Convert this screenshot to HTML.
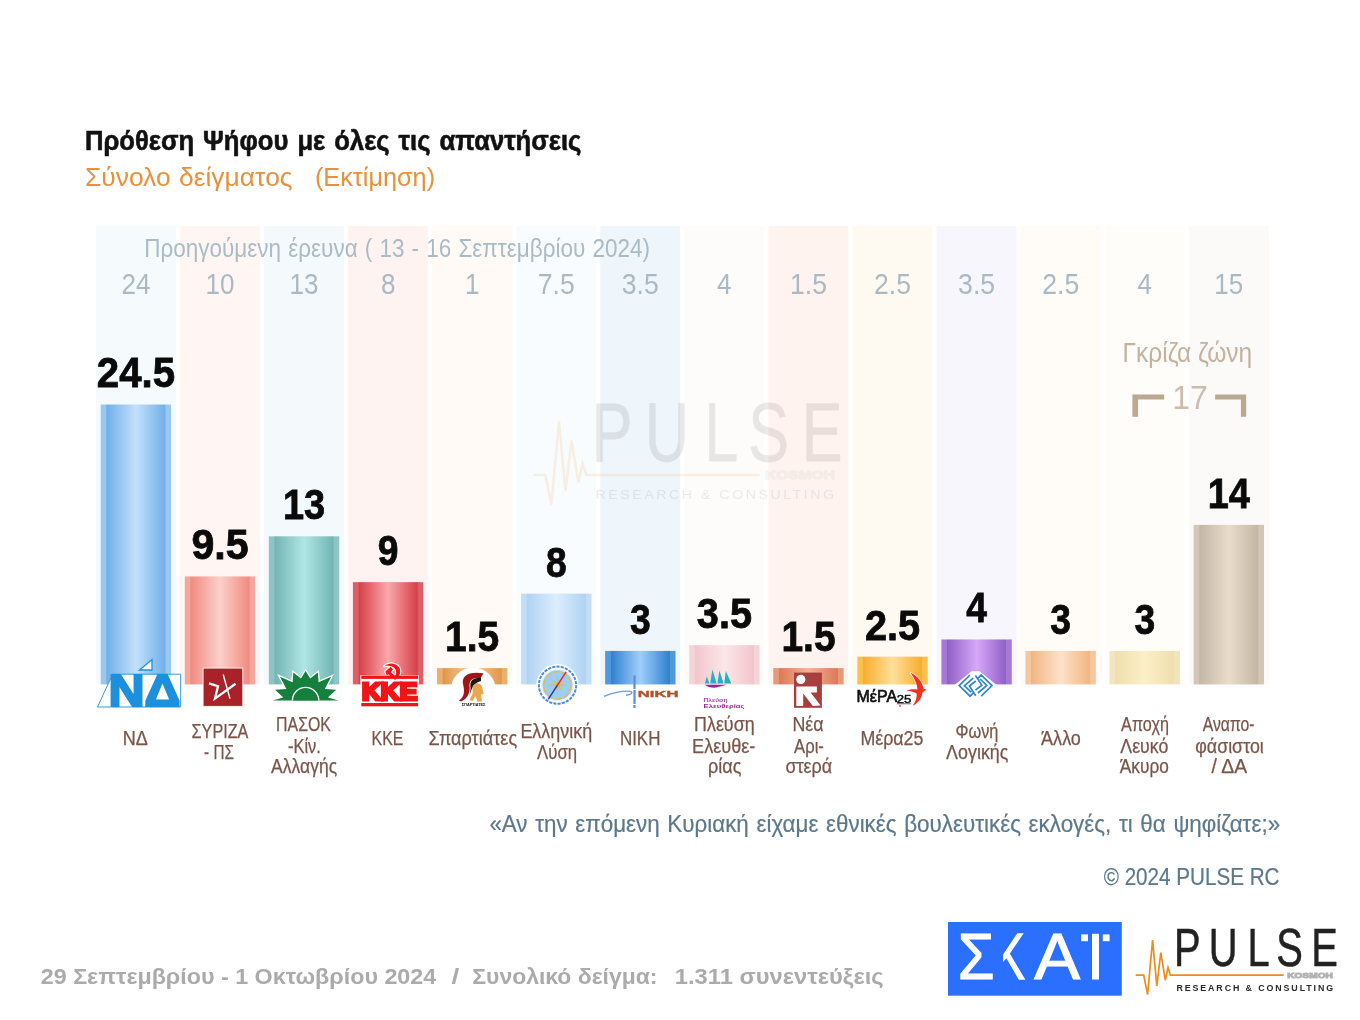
<!DOCTYPE html>
<html lang="el"><head><meta charset="utf-8"><title>Πρόθεση Ψήφου</title>
<style>
html,body{margin:0;padding:0;background:#fff;}
body{width:1360px;height:1020px;overflow:hidden;font-family:"Liberation Sans",sans-serif;}
svg{display:block}
text{font-family:"Liberation Sans",sans-serif;white-space:pre;}
.b{font-weight:bold}
</style></head><body>
<svg width="1360" height="1020" viewBox="0 0 1360 1020">
<defs>
<linearGradient id="gnd" x1="0" x2="1" y1="0" y2="0"><stop offset="0" stop-color="#9CC8F0"/><stop offset="0.075" stop-color="#9CC8F0"/><stop offset="0.085" stop-color="#6FB1E8"/><stop offset="0.5" stop-color="#C4E0FB"/><stop offset="0.915" stop-color="#6FB1E8"/><stop offset="0.925" stop-color="#9CC8F0"/><stop offset="1" stop-color="#9CC8F0"/></linearGradient>
<linearGradient id="gsyr" x1="0" x2="1" y1="0" y2="0"><stop offset="0" stop-color="#F4A79C"/><stop offset="0.075" stop-color="#F4A79C"/><stop offset="0.085" stop-color="#F08B80"/><stop offset="0.5" stop-color="#FDD0CB"/><stop offset="0.915" stop-color="#F08B80"/><stop offset="0.925" stop-color="#F4A79C"/><stop offset="1" stop-color="#F4A79C"/></linearGradient>
<linearGradient id="gpas" x1="0" x2="1" y1="0" y2="0"><stop offset="0" stop-color="#8EC4C4"/><stop offset="0.075" stop-color="#8EC4C4"/><stop offset="0.085" stop-color="#72B5B3"/><stop offset="0.5" stop-color="#B0E6E6"/><stop offset="0.915" stop-color="#72B5B3"/><stop offset="0.925" stop-color="#8EC4C4"/><stop offset="1" stop-color="#8EC4C4"/></linearGradient>
<linearGradient id="gkke" x1="0" x2="1" y1="0" y2="0"><stop offset="0" stop-color="#DC6068"/><stop offset="0.075" stop-color="#DC6068"/><stop offset="0.085" stop-color="#D64048"/><stop offset="0.5" stop-color="#FAA8AC"/><stop offset="0.915" stop-color="#D64048"/><stop offset="0.925" stop-color="#DC6068"/><stop offset="1" stop-color="#DC6068"/></linearGradient>
<linearGradient id="gspa" x1="0" x2="1" y1="0" y2="0"><stop offset="0" stop-color="#EBB070"/><stop offset="0.075" stop-color="#EBB070"/><stop offset="0.085" stop-color="#E0964A"/><stop offset="0.5" stop-color="#F8D0A0"/><stop offset="0.915" stop-color="#E0964A"/><stop offset="0.925" stop-color="#EBB070"/><stop offset="1" stop-color="#EBB070"/></linearGradient>
<linearGradient id="gell" x1="0" x2="1" y1="0" y2="0"><stop offset="0" stop-color="#C2DDF6"/><stop offset="0.075" stop-color="#C2DDF6"/><stop offset="0.085" stop-color="#B0D3F3"/><stop offset="0.5" stop-color="#DCEDFC"/><stop offset="0.915" stop-color="#B0D3F3"/><stop offset="0.925" stop-color="#C2DDF6"/><stop offset="1" stop-color="#C2DDF6"/></linearGradient>
<linearGradient id="gnik" x1="0" x2="1" y1="0" y2="0"><stop offset="0" stop-color="#5299DA"/><stop offset="0.075" stop-color="#5299DA"/><stop offset="0.085" stop-color="#2E82CF"/><stop offset="0.5" stop-color="#A0CEFC"/><stop offset="0.915" stop-color="#2E82CF"/><stop offset="0.925" stop-color="#5299DA"/><stop offset="1" stop-color="#5299DA"/></linearGradient>
<linearGradient id="gple" x1="0" x2="1" y1="0" y2="0"><stop offset="0" stop-color="#F6D3D6"/><stop offset="0.075" stop-color="#F6D3D6"/><stop offset="0.085" stop-color="#F2C5CB"/><stop offset="0.5" stop-color="#FCE7E8"/><stop offset="0.915" stop-color="#F2C5CB"/><stop offset="0.925" stop-color="#F6D3D6"/><stop offset="1" stop-color="#F6D3D6"/></linearGradient>
<linearGradient id="gnea" x1="0" x2="1" y1="0" y2="0"><stop offset="0" stop-color="#E69A7A"/><stop offset="0.075" stop-color="#E69A7A"/><stop offset="0.085" stop-color="#DD7A55"/><stop offset="0.5" stop-color="#F4B196"/><stop offset="0.915" stop-color="#DD7A55"/><stop offset="0.925" stop-color="#E69A7A"/><stop offset="1" stop-color="#E69A7A"/></linearGradient>
<linearGradient id="gmer" x1="0" x2="1" y1="0" y2="0"><stop offset="0" stop-color="#FBC050"/><stop offset="0.075" stop-color="#FBC050"/><stop offset="0.085" stop-color="#F8AE2C"/><stop offset="0.5" stop-color="#FFDF9C"/><stop offset="0.915" stop-color="#F8AE2C"/><stop offset="0.925" stop-color="#FBC050"/><stop offset="1" stop-color="#FBC050"/></linearGradient>
<linearGradient id="gfon" x1="0" x2="1" y1="0" y2="0"><stop offset="0" stop-color="#A57AD6"/><stop offset="0.075" stop-color="#A57AD6"/><stop offset="0.085" stop-color="#9060C8"/><stop offset="0.5" stop-color="#D6A8F8"/><stop offset="0.915" stop-color="#9060C8"/><stop offset="0.925" stop-color="#A57AD6"/><stop offset="1" stop-color="#A57AD6"/></linearGradient>
<linearGradient id="gall" x1="0" x2="1" y1="0" y2="0"><stop offset="0" stop-color="#F5C79F"/><stop offset="0.075" stop-color="#F5C79F"/><stop offset="0.085" stop-color="#F1B682"/><stop offset="0.5" stop-color="#FDE2C9"/><stop offset="0.915" stop-color="#F1B682"/><stop offset="0.925" stop-color="#F5C79F"/><stop offset="1" stop-color="#F5C79F"/></linearGradient>
<linearGradient id="gapo" x1="0" x2="1" y1="0" y2="0"><stop offset="0" stop-color="#F1E4BE"/><stop offset="0.075" stop-color="#F1E4BE"/><stop offset="0.085" stop-color="#EFDFAF"/><stop offset="0.5" stop-color="#FCEFC6"/><stop offset="0.915" stop-color="#EFDFAF"/><stop offset="0.925" stop-color="#F1E4BE"/><stop offset="1" stop-color="#F1E4BE"/></linearGradient>
<linearGradient id="gana" x1="0" x2="1" y1="0" y2="0"><stop offset="0" stop-color="#D3C6B6"/><stop offset="0.075" stop-color="#D3C6B6"/><stop offset="0.085" stop-color="#C5B6A4"/><stop offset="0.5" stop-color="#E9DCCB"/><stop offset="0.915" stop-color="#C5B6A4"/><stop offset="0.925" stop-color="#D3C6B6"/><stop offset="1" stop-color="#D3C6B6"/></linearGradient>
</defs>
<rect width="1360" height="1020" fill="#fff"/>
<rect x="95.90" y="226" width="80.0" height="458.4" fill="#F5FAFD"/>
<rect x="179.97" y="226" width="80.0" height="458.4" fill="#FFF6F4"/>
<rect x="264.04" y="226" width="80.0" height="458.4" fill="#F4F9FB"/>
<rect x="348.11" y="226" width="80.0" height="458.4" fill="#FFF3F1"/>
<rect x="432.18" y="226" width="80.0" height="458.4" fill="#FFFAF5"/>
<rect x="516.25" y="226" width="80.0" height="458.4" fill="#F9FCFE"/>
<rect x="600.32" y="226" width="80.0" height="458.4" fill="#EEF5FB"/>
<rect x="684.39" y="226" width="80.0" height="458.4" fill="#FEFBFB"/>
<rect x="768.46" y="226" width="80.0" height="458.4" fill="#FFF3EF"/>
<rect x="852.53" y="226" width="80.0" height="458.4" fill="#FFFAF1"/>
<rect x="936.60" y="226" width="80.0" height="458.4" fill="#F7F6FD"/>
<rect x="1020.67" y="226" width="80.0" height="458.4" fill="#FFFBF6"/>
<rect x="1104.74" y="226" width="80.0" height="458.4" fill="#FFFDF9"/>
<rect x="1188.81" y="226" width="80.0" height="458.4" fill="#FCFAF8"/>
<g id="wm" transform="translate(-1204.46 -1017.06) scale(1.53)" opacity="0.115">
<path d="M1135.7 975.2 L1143.7 975.2 L1147.6 994.6 L1152.6 940.2 L1156.8 985.8 L1160.8 952.6 L1165.3 980.2 L1168 967.6 L1170.4 975.2 L1283.7 975.2" fill="none" stroke="#F08A1C" stroke-width="1.7" stroke-linejoin="miter"/>
<text transform="scale(0.74 1)" x="1586.4 1633.4 1685.9 1724.6 1771.9" y="965.8" font-size="54" fill="#444" stroke="#444" stroke-width="0.5">PULSE</text>
<text x="1287.3" y="978" font-size="7.4" font-weight="bold" fill="#B2B2B2" stroke="#B2B2B2" stroke-width="0.9" textLength="45.6" lengthAdjust="spacingAndGlyphs">KOSMOH</text>
<text x="1176.4" y="990.9" font-size="8.9" fill="#555" letter-spacing="1.6" textLength="157.6" lengthAdjust="spacingAndGlyphs">RESEARCH &amp; CONSULTING</text>
</g>
<rect x="100.70" y="404.53" width="70.4" height="279.87" fill="url(#gnd)"/>
<rect x="184.77" y="576.43" width="70.4" height="107.97" fill="url(#gsyr)"/>
<rect x="268.84" y="536.32" width="70.4" height="148.08" fill="url(#gpas)"/>
<rect x="352.91" y="582.16" width="70.4" height="102.24" fill="url(#gkke)"/>
<rect x="436.98" y="668.11" width="70.4" height="16.29" fill="url(#gspa)"/>
<rect x="521.05" y="593.62" width="70.4" height="90.78" fill="url(#gell)"/>
<rect x="605.12" y="650.92" width="70.4" height="33.48" fill="url(#gnik)"/>
<rect x="689.19" y="645.19" width="70.4" height="39.21" fill="url(#gple)"/>
<rect x="773.26" y="668.11" width="70.4" height="16.29" fill="url(#gnea)"/>
<rect x="857.33" y="656.65" width="70.4" height="27.75" fill="url(#gmer)"/>
<rect x="941.40" y="639.46" width="70.4" height="44.94" fill="url(#gfon)"/>
<rect x="1025.47" y="650.92" width="70.4" height="33.48" fill="url(#gall)"/>
<rect x="1109.54" y="650.92" width="70.4" height="33.48" fill="url(#gapo)"/>
<rect x="1193.61" y="524.86" width="70.4" height="159.54" fill="url(#gana)"/>
<text x="84.9" y="150" font-size="27.3" fill="#111" text-anchor="start" textLength="496.5" lengthAdjust="spacingAndGlyphs" class="b" stroke="#111" stroke-width="0.6" word-spacing="2">Πρόθεση Ψήφου με όλες τις απαντήσεις</text>
<text x="84.9" y="186.3" font-size="26.6" fill="#E8913A" text-anchor="start" textLength="207.7" lengthAdjust="spacingAndGlyphs" word-spacing="1">Σύνολο δείγματος</text>
<text x="314.9" y="186.3" font-size="26.6" fill="#E8913A" text-anchor="start" textLength="120.2" lengthAdjust="spacingAndGlyphs">(Εκτίμηση)</text>
<text x="144.2" y="257" font-size="25.4" fill="#AABBC6" text-anchor="start" textLength="505.8" lengthAdjust="spacingAndGlyphs" word-spacing="1">Προηγούμενη έρευνα ( 13 - 16 Σεπτεμβρίου 2024)</text>
<text x="121.4" y="293.8" font-size="29" fill="#A9BAC5" text-anchor="start" textLength="29" lengthAdjust="spacingAndGlyphs">24</text>
<text x="205.5" y="293.8" font-size="29" fill="#A9BAC5" text-anchor="start" textLength="29" lengthAdjust="spacingAndGlyphs">10</text>
<text x="289.5" y="293.8" font-size="29" fill="#A9BAC5" text-anchor="start" textLength="29" lengthAdjust="spacingAndGlyphs">13</text>
<text x="380.9" y="293.8" font-size="29" fill="#A9BAC5" text-anchor="start" textLength="14.5" lengthAdjust="spacingAndGlyphs">8</text>
<text x="464.9" y="293.8" font-size="29" fill="#A9BAC5" text-anchor="start" textLength="14.5" lengthAdjust="spacingAndGlyphs">1</text>
<text x="537.8" y="293.8" font-size="29" fill="#A9BAC5" text-anchor="start" textLength="37" lengthAdjust="spacingAndGlyphs">7.5</text>
<text x="621.8" y="293.8" font-size="29" fill="#A9BAC5" text-anchor="start" textLength="37" lengthAdjust="spacingAndGlyphs">3.5</text>
<text x="717.1" y="293.8" font-size="29" fill="#A9BAC5" text-anchor="start" textLength="14.5" lengthAdjust="spacingAndGlyphs">4</text>
<text x="790.0" y="293.8" font-size="29" fill="#A9BAC5" text-anchor="start" textLength="37" lengthAdjust="spacingAndGlyphs">1.5</text>
<text x="874.0" y="293.8" font-size="29" fill="#A9BAC5" text-anchor="start" textLength="37" lengthAdjust="spacingAndGlyphs">2.5</text>
<text x="958.1" y="293.8" font-size="29" fill="#A9BAC5" text-anchor="start" textLength="37" lengthAdjust="spacingAndGlyphs">3.5</text>
<text x="1042.2" y="293.8" font-size="29" fill="#A9BAC5" text-anchor="start" textLength="37" lengthAdjust="spacingAndGlyphs">2.5</text>
<text x="1137.5" y="293.8" font-size="29" fill="#A9BAC5" text-anchor="start" textLength="14.5" lengthAdjust="spacingAndGlyphs">4</text>
<text x="1214.3" y="293.8" font-size="29" fill="#A9BAC5" text-anchor="start" textLength="29" lengthAdjust="spacingAndGlyphs">15</text>
<text x="96.8" y="387.4" font-size="42.3" fill="#0a0a0a" text-anchor="start" textLength="78.2" lengthAdjust="spacingAndGlyphs" class="b" stroke="#0a0a0a" stroke-width="0.8">24.5</text>
<text x="191.4" y="559.3" font-size="42.3" fill="#0a0a0a" text-anchor="start" textLength="57.2" lengthAdjust="spacingAndGlyphs" class="b" stroke="#0a0a0a" stroke-width="0.8">9.5</text>
<text x="282.9" y="519.2" font-size="42.3" fill="#0a0a0a" text-anchor="start" textLength="42.2" lengthAdjust="spacingAndGlyphs" class="b" stroke="#0a0a0a" stroke-width="0.8">13</text>
<text x="377.8" y="565.1" font-size="42.3" fill="#0a0a0a" text-anchor="start" textLength="20.7" lengthAdjust="spacingAndGlyphs" class="b" stroke="#0a0a0a" stroke-width="0.8">9</text>
<text x="445.1" y="651.0" font-size="42.3" fill="#0a0a0a" text-anchor="start" textLength="54.2" lengthAdjust="spacingAndGlyphs" class="b" stroke="#0a0a0a" stroke-width="0.8">1.5</text>
<text x="545.9" y="576.5" font-size="42.3" fill="#0a0a0a" text-anchor="start" textLength="20.7" lengthAdjust="spacingAndGlyphs" class="b" stroke="#0a0a0a" stroke-width="0.8">8</text>
<text x="630.0" y="633.8" font-size="42.3" fill="#0a0a0a" text-anchor="start" textLength="20.7" lengthAdjust="spacingAndGlyphs" class="b" stroke="#0a0a0a" stroke-width="0.8">3</text>
<text x="696.8" y="628.1" font-size="42.3" fill="#0a0a0a" text-anchor="start" textLength="55.2" lengthAdjust="spacingAndGlyphs" class="b" stroke="#0a0a0a" stroke-width="0.8">3.5</text>
<text x="781.4" y="651.0" font-size="42.3" fill="#0a0a0a" text-anchor="start" textLength="54.2" lengthAdjust="spacingAndGlyphs" class="b" stroke="#0a0a0a" stroke-width="0.8">1.5</text>
<text x="864.9" y="639.5" font-size="42.3" fill="#0a0a0a" text-anchor="start" textLength="55.2" lengthAdjust="spacingAndGlyphs" class="b" stroke="#0a0a0a" stroke-width="0.8">2.5</text>
<text x="966.2" y="622.4" font-size="42.3" fill="#0a0a0a" text-anchor="start" textLength="20.7" lengthAdjust="spacingAndGlyphs" class="b" stroke="#0a0a0a" stroke-width="0.8">4</text>
<text x="1050.3" y="633.8" font-size="42.3" fill="#0a0a0a" text-anchor="start" textLength="20.7" lengthAdjust="spacingAndGlyphs" class="b" stroke="#0a0a0a" stroke-width="0.8">3</text>
<text x="1134.4" y="633.8" font-size="42.3" fill="#0a0a0a" text-anchor="start" textLength="20.7" lengthAdjust="spacingAndGlyphs" class="b" stroke="#0a0a0a" stroke-width="0.8">3</text>
<text x="1207.7" y="507.8" font-size="42.3" fill="#0a0a0a" text-anchor="start" textLength="42.2" lengthAdjust="spacingAndGlyphs" class="b" stroke="#0a0a0a" stroke-width="0.8">14</text>
<text x="122.8" y="744.5" font-size="19.3" fill="#7A5548" text-anchor="start" textLength="25.1" lengthAdjust="spacingAndGlyphs" stroke="#7A5548" stroke-width="0.25">ΝΔ</text>
<text x="191.6" y="738" font-size="19.3" fill="#7A5548" text-anchor="start" textLength="56.8" lengthAdjust="spacingAndGlyphs" stroke="#7A5548" stroke-width="0.25">ΣΥΡΙΖΑ</text>
<text x="204.1" y="759.25" font-size="19.3" fill="#7A5548" text-anchor="start" textLength="29.8" lengthAdjust="spacingAndGlyphs" stroke="#7A5548" stroke-width="0.25">- ΠΣ</text>
<text x="276.1" y="731.4" font-size="19.3" fill="#7A5548" text-anchor="start" textLength="54.8" lengthAdjust="spacingAndGlyphs" stroke="#7A5548" stroke-width="0.25">ΠΑΣΟΚ</text>
<text x="287.9" y="752.5" font-size="19.3" fill="#7A5548" text-anchor="start" textLength="33.0" lengthAdjust="spacingAndGlyphs" stroke="#7A5548" stroke-width="0.25">-Κίν.</text>
<text x="271.1" y="772.5" font-size="19.3" fill="#7A5548" text-anchor="start" textLength="66.0" lengthAdjust="spacingAndGlyphs" stroke="#7A5548" stroke-width="0.25">Αλλαγής</text>
<text x="371.6" y="744.5" font-size="19.3" fill="#7A5548" text-anchor="start" textLength="31.8" lengthAdjust="spacingAndGlyphs" stroke="#7A5548" stroke-width="0.25">ΚΚΕ</text>
<text x="428.6" y="744.5" font-size="19.3" fill="#7A5548" text-anchor="start" textLength="88.5" lengthAdjust="spacingAndGlyphs" stroke="#7A5548" stroke-width="0.25">Σπαρτιάτες</text>
<text x="520.4" y="738" font-size="19.3" fill="#7A5548" text-anchor="start" textLength="71.8" lengthAdjust="spacingAndGlyphs" stroke="#7A5548" stroke-width="0.25">Ελληνική</text>
<text x="537.1" y="759.25" font-size="19.3" fill="#7A5548" text-anchor="start" textLength="40.0" lengthAdjust="spacingAndGlyphs" stroke="#7A5548" stroke-width="0.25">Λύση</text>
<text x="619.9" y="744.5" font-size="19.3" fill="#7A5548" text-anchor="start" textLength="40.5" lengthAdjust="spacingAndGlyphs" stroke="#7A5548" stroke-width="0.25">ΝΙΚΗ</text>
<text x="694.1" y="731.4" font-size="19.3" fill="#7A5548" text-anchor="start" textLength="60.5" lengthAdjust="spacingAndGlyphs" stroke="#7A5548" stroke-width="0.25">Πλεύση</text>
<text x="692.1" y="752.5" font-size="19.3" fill="#7A5548" text-anchor="start" textLength="63.3" lengthAdjust="spacingAndGlyphs" stroke="#7A5548" stroke-width="0.25">Ελευθε-</text>
<text x="707.9" y="772.5" font-size="19.3" fill="#7A5548" text-anchor="start" textLength="33.5" lengthAdjust="spacingAndGlyphs" stroke="#7A5548" stroke-width="0.25">ρίας</text>
<text x="792.4" y="731.4" font-size="19.3" fill="#7A5548" text-anchor="start" textLength="31.1" lengthAdjust="spacingAndGlyphs" stroke="#7A5548" stroke-width="0.25">Νέα</text>
<text x="794.1" y="752.5" font-size="19.3" fill="#7A5548" text-anchor="start" textLength="29.8" lengthAdjust="spacingAndGlyphs" stroke="#7A5548" stroke-width="0.25">Αρι-</text>
<text x="785.4" y="772.5" font-size="19.3" fill="#7A5548" text-anchor="start" textLength="46.8" lengthAdjust="spacingAndGlyphs" stroke="#7A5548" stroke-width="0.25">στερά</text>
<text x="860.4" y="744.5" font-size="19.3" fill="#7A5548" text-anchor="start" textLength="63.0" lengthAdjust="spacingAndGlyphs" stroke="#7A5548" stroke-width="0.25">Μέρα25</text>
<text x="955.4" y="738" font-size="19.3" fill="#7A5548" text-anchor="start" textLength="43.0" lengthAdjust="spacingAndGlyphs" stroke="#7A5548" stroke-width="0.25">Φωνή</text>
<text x="946.1" y="759.25" font-size="19.3" fill="#7A5548" text-anchor="start" textLength="62.3" lengthAdjust="spacingAndGlyphs" stroke="#7A5548" stroke-width="0.25">Λογικής</text>
<text x="1041.1" y="744.5" font-size="19.3" fill="#7A5548" text-anchor="start" textLength="39.8" lengthAdjust="spacingAndGlyphs" stroke="#7A5548" stroke-width="0.25">Άλλο</text>
<text x="1121.1" y="731.4" font-size="19.3" fill="#7A5548" text-anchor="start" textLength="47.8" lengthAdjust="spacingAndGlyphs" stroke="#7A5548" stroke-width="0.25">Αποχή</text>
<text x="1120.3" y="752.5" font-size="19.3" fill="#7A5548" text-anchor="start" textLength="48.0" lengthAdjust="spacingAndGlyphs" stroke="#7A5548" stroke-width="0.25">Λευκό</text>
<text x="1119.8" y="772.5" font-size="19.3" fill="#7A5548" text-anchor="start" textLength="49.0" lengthAdjust="spacingAndGlyphs" stroke="#7A5548" stroke-width="0.25">Άκυρο</text>
<text x="1202.8" y="731.4" font-size="19.3" fill="#7A5548" text-anchor="start" textLength="51.8" lengthAdjust="spacingAndGlyphs" stroke="#7A5548" stroke-width="0.25">Αναπο-</text>
<text x="1195.3" y="752.5" font-size="19.3" fill="#7A5548" text-anchor="start" textLength="68.5" lengthAdjust="spacingAndGlyphs" stroke="#7A5548" stroke-width="0.25">φάσιστοι</text>
<text x="1211.6" y="772.5" font-size="19.3" fill="#7A5548" text-anchor="start" textLength="35.5" lengthAdjust="spacingAndGlyphs" stroke="#7A5548" stroke-width="0.25">/ ΔΑ</text>
<text x="1122.6" y="361.8" font-size="27" fill="#C4B29F" text-anchor="start" textLength="129.6" lengthAdjust="spacingAndGlyphs">Γκρίζα ζώνη</text>
<text x="1172.2" y="409.4" font-size="32.6" fill="#CBBDAE" text-anchor="start" textLength="35.5" lengthAdjust="spacingAndGlyphs">17</text>
<path d="M1132.4 416.7 V394.6 H1164.2 V399.5 H1138.1 V416.7 Z M1246.2 416.7 V394.6 H1215.1 V399.5 H1240.9 V416.7 Z" fill="#BBA893"/>
<text x="489.4" y="831.8" font-size="23.6" fill="#5B788C" text-anchor="start" textLength="790.7" lengthAdjust="spacingAndGlyphs" word-spacing="1.5" stroke="#5B788C" stroke-width="0.2">«Αν την επόμενη Κυριακή είχαμε εθνικές βουλευτικές εκλογές, τι θα ψηφίζατε;»</text>
<text x="1103.7" y="885" font-size="23.6" fill="#5B788C" text-anchor="start" textLength="175.8" lengthAdjust="spacingAndGlyphs" stroke="#5B788C" stroke-width="0.2">© 2024 PULSE RC</text>
<text x="40.8" y="983.8" font-size="21.6" fill="#ABABAB" text-anchor="start" textLength="395.4" lengthAdjust="spacingAndGlyphs" class="b">29 Σεπτεμβρίου - 1 Οκτωβρίου 2024</text>
<text x="451.5" y="983.8" font-size="21.6" fill="#ABABAB" text-anchor="start" textLength="7.8" lengthAdjust="spacingAndGlyphs" class="b">/</text>
<text x="472.3" y="983.8" font-size="21.6" fill="#ABABAB" text-anchor="start" textLength="185.2" lengthAdjust="spacingAndGlyphs" class="b">Συνολικό δείγμα:</text>
<text x="674.8" y="983.8" font-size="21.6" fill="#ABABAB" text-anchor="start" textLength="208.8" lengthAdjust="spacingAndGlyphs" class="b">1.311 συνεντεύξεις</text>
<g id="lg-nd">
<path d="M97.5 707 L112.6 674.2 L180.7 674.2 L180.7 707 Z" fill="#fff" stroke="#1C90DD" stroke-width="0.9"/>
<path d="M139.6 670 L152 659.6 L152 670 Z" fill="#fff" stroke="#1C90DD" stroke-width="1.3"/>
<text x="108.5" y="705.6" font-size="44.5" font-weight="bold" fill="#1C90DD" stroke="#1C90DD" stroke-width="2.2" stroke-linejoin="miter" textLength="72" lengthAdjust="spacingAndGlyphs">ΝΔ</text>
</g>
<g id="lg-syr">
<rect x="203.1" y="668.1" width="39.7" height="38.2" fill="#A82228" stroke="#fff" stroke-width="0.8"/>
<path d="M209 683.4 L218 686.2 L215 698.6 L235.6 683.8" fill="none" stroke="#fff" stroke-width="2.3" stroke-linejoin="miter"/><path d="M223.2 674.5 L230 698.8" fill="none" stroke="#fff" stroke-width="1.4"/>
</g>
<g id="lg-pas">
<path d="M337.6 700.6 L338.5 700.6 L327.9 697.6 L336.2 689.8 L324.8 688.9 L331.2 676.7 L318.6 682.2 L317.8 672.6 L310.2 678.6 L305.6 671.0 L301.0 678.6 L293.4 672.6 L292.6 682.2 L280.0 676.7 L286.4 688.9 L275.0 689.8 L283.3 697.6 L272.7 700.6 L273.6 700.6 Z" fill="#15803C" stroke="#fff" stroke-width="2.6" stroke-linejoin="miter" paint-order="stroke"/>
<path d="M292.4 700.6 A13.2 13.2 0 0 1 318.8 700.6" fill="#15803C" stroke="#fff" stroke-width="1.3"/>
</g>
<g id="lg-kke">
<rect x="360.4" y="675.2" width="58.4" height="31.6" fill="#fff"/>
<g stroke="#fff" stroke-width="2.2" stroke-linejoin="round" fill="#fff">
<path d="M384.2 666.2 C391 660.6 401.2 664.6 400.2 672.6 C399.6 676.6 396.4 678.6 393 678.2 C395.6 676.2 396.8 673.4 395.8 670.2 C394.4 666.4 389 665.2 384.2 666.2 Z"/>
<path d="M385.4 671.4 L390.6 666.8 L393.2 669.6 L390.6 672 L397.4 677.8 L395 680 L388.2 674.2 L386.8 675.4 Z"/>
</g>
<rect x="361.3" y="675.6" width="56.8" height="3.3" fill="#F01418"/>
<rect x="361.3" y="703" width="56.8" height="3.3" fill="#F01418"/>
<text x="361.9" y="700.4" font-size="23.6" font-weight="bold" fill="#F01418" stroke="#F01418" stroke-width="3" stroke-linejoin="miter" textLength="55.4" lengthAdjust="spacingAndGlyphs">ΚΚΕ</text>
<path d="M384.2 666.2 C391 660.6 401.2 664.6 400.2 672.6 C399.6 676.6 396.4 678.6 393 678.2 C395.6 676.2 396.8 673.4 395.8 670.2 C394.4 666.4 389 665.2 384.2 666.2 Z" fill="#F01418"/>
<path d="M385.4 671.4 L390.6 666.8 L393.2 669.6 L390.6 672 L397.4 677.8 L395 680 L388.2 674.2 L386.8 675.4 Z" fill="#F01418"/>
</g>
<g id="lg-spa">
<circle cx="473.2" cy="690.2" r="22.6" fill="#fff"/>
<path d="M459 700.5 C465 697 464.5 690 463 684 C461.5 676 468 671 483.5 673.2 L480.5 678.2 C473 677.4 469 680 469.6 686 C470.2 692 468 699 461 701.4 Z" fill="#A31515"/>
<path d="M481 677.8 C473.5 677.6 469.8 680.5 470.4 686 C470.8 690 470 694 468.6 697 C472 691 471 684 481 681 Z" fill="#1a1a1a"/>
<path d="M472.5 687 C474 682.5 480 682 482 686.5 L483.6 694 L481 694.5 L482 701.6 L477.5 701.8 L475.4 696 L472.8 701 L469.5 700 L472.6 693.6 Z" fill="#E8A84E"/>
<text x="461.8" y="706.2" font-size="3.4" font-weight="bold" fill="#111" textLength="23.6" lengthAdjust="spacingAndGlyphs">ΣΠΑΡΤΙΑΤΕΣ</text>
</g>
<g id="lg-ell">
<circle cx="557.5" cy="685.2" r="21.2" fill="#fff"/>
<circle cx="557.5" cy="685.2" r="18.6" fill="none" stroke="#4C8EDB" stroke-width="2" stroke-dasharray="3.2 1.1"/>
<circle cx="557.5" cy="685.2" r="16.4" fill="#EAF3FC"/>
<circle cx="557.5" cy="685.2" r="15" fill="#9ECDF2"/>
<circle cx="557.5" cy="685.2" r="13.6" fill="none" stroke="#E9B949" stroke-width="1.3" stroke-dasharray="6 2.5"/>
<path d="M568.0 685.2 L559.6 686.1 L563.0 690.7 L558.4 687.3 L557.5 695.7 L556.6 687.3 L552.0 690.7 L555.4 686.1 L547.0 685.2 L555.4 684.3 L552.0 679.7 L556.6 683.1 L557.5 674.7 L558.4 683.1 L563.0 679.7 L559.6 684.3 Z" fill="#EDB83E"/>
<path d="M557.5 685.2 L566.2 671.8" stroke="#E2282E" stroke-width="1.5" fill="none"/>
<path d="M557.5 685.2 L548.2 699.4" stroke="#2B3C9C" stroke-width="1.5" fill="none"/>
</g>
<g id="lg-nik">
<path d="M634.5 675.5 L634.5 708" stroke="#5F8FD8" stroke-width="2.2" fill="none" stroke-dasharray="13.5 1 14 1 10"/>
<path d="M604 696.3 C612 693 624 690.2 630.5 691.4 C633.5 692.2 631.5 695 626 695.2" stroke="#6F9BDD" stroke-width="1.4" fill="none"/>
<text x="637.8" y="696.6" font-size="9.9" font-weight="bold" fill="#B4522A" stroke="#B4522A" stroke-width="0.4" textLength="40.6" lengthAdjust="spacingAndGlyphs">ΝΙΚΗ</text>
</g>
<g id="lg-ple">
<path d="M705 683.6 L706.8 676.5 L709.4 683.6 Z M710.2 683.6 L712.4 669.6 L716.6 683.6 Z M717.4 683.6 L719.4 670.4 L723.6 683.6 Z M724.3 683.6 L725.8 671 L731.4 683.6 Z" fill="#1FB3C2"/>
<path d="M705 684.8 L727 684.8 C723 686.2 719 686.2 716.5 687.6 C712 688 707 687 705 684.8 Z" fill="#A0209C"/>
<text x="703.6" y="702.4" font-size="5.6" font-weight="bold" fill="#B23AB0" textLength="24" lengthAdjust="spacingAndGlyphs">Πλεύση</text>
<text x="703.6" y="708.4" font-size="5.2" font-weight="bold" fill="#A0209C" textLength="41" lengthAdjust="spacingAndGlyphs">Ελευθερίας</text>
</g>
<g id="lg-nea">
<rect x="794" y="672.6" width="27.9" height="35.2" fill="#A93E3E"/>
<circle cx="800.8" cy="679.4" r="4.6" fill="#fff"/>
<path d="M796.3 686.4 L816.9 686.4 L816.9 692.4 L810.6 692.4 L820.6 705.4 L812.8 706 L803.2 693.4 L803.2 706 L796.3 706 Z" fill="#fff"/>
</g>
<g id="lg-mer">
<path d="M910.4 672.6 C918 676.5 922.5 682 923.4 688.6 L926.4 689.4 C924.6 691 923.8 691.6 922.6 692 C922 698 918.6 703 912.6 705.8 C915.6 701.6 917.2 697.4 916.6 693.4 C913.6 692 909.6 690.8 906 690.6 C910.6 689 914.6 689 917.4 689.6 C917.4 684.6 914.6 678.6 910.4 672.6 Z" fill="#F0321E" stroke="#fff" stroke-width="1.2" paint-order="stroke"/>
<text x="856.6" y="702" font-size="16.4" fill="#111" stroke="#111" stroke-width="0.7" textLength="40.4" lengthAdjust="spacingAndGlyphs">ΜέΡΑ</text>
<text x="896.8" y="702.6" font-size="11.6" fill="#111" stroke="#111" stroke-width="0.5" textLength="14.6" lengthAdjust="spacingAndGlyphs">25</text>
<rect x="897" y="703.5" width="14.2" height="0.7" fill="#333"/>
<circle cx="900" cy="705.9" r="0.9" fill="#F0321E"/>
</g>
<g id="lg-fon">
<path d="M956.1 685.6 L972.6 672.4 L978.6 672.4 L995.1 685.6 L978.6 698.8000000000001 L972.6 698.8000000000001 Z" fill="#fff" stroke="#fff" stroke-width="3" stroke-linejoin="round"/>
<path d="M970.0 675.0 L959.2 685.6 L970.0 696.2 L974.0 692.4 M973.2 678.2 L964.4 685.8 L971.2 692.2 M975.8 681.0 L969.4 686.0 L975.8 695.8 M981.2 696.2 L992.0 685.6 L981.2 675.0 L977.2 678.8 M978.0 693.0 L986.8 685.4 L980.0 679.0 M975.4 690.2 L981.8 685.2 L975.4 675.4" fill="none" stroke="#2F86D0" stroke-width="1.7"/>
</g>
<g id="skai">
<rect x="948" y="922" width="173.8" height="73.7" fill="#2B6FFF"/>
<text transform="translate(957.8 0) scale(0.915 1)" x="0" y="979.2" font-size="65" fill="#fff" stroke="#fff" stroke-width="1.1">Σ</text>
<text transform="translate(994.6 0) scale(0.7 1)" x="0" y="979.2" font-size="65" fill="#fff" stroke="#fff" stroke-width="1.3">Κ</text>
<text transform="translate(1034.2 0) scale(1.06 1)" x="0" y="979.2" font-size="65" fill="#fff" stroke="#fff" stroke-width="1">Α</text>
<text x="1086.6" y="979.2" font-size="65" fill="#fff" stroke="#fff" stroke-width="0.9">Ϊ</text>
<rect x="993" y="930" width="10.1" height="52" fill="#2B6FFF"/>
<rect x="1080" y="923" width="36" height="10.6" fill="#2B6FFF"/>
<rect x="1081.2" y="934.4" width="6.8" height="6.8" fill="#fff"/><rect x="1102.8" y="934.4" width="6.8" height="6.8" fill="#fff"/>
</g>
<g id="pulse">
<path d="M1135.7 975.2 L1143.7 975.2 L1147.6 994.6 L1152.6 940.2 L1156.8 985.8 L1160.8 952.6 L1165.3 980.2 L1168 967.6 L1170.4 975.2 L1283.7 975.2" fill="none" stroke="#F08A1C" stroke-width="1.7" stroke-linejoin="miter"/>
<text transform="scale(0.74 1)" x="1586.4 1633.4 1685.9 1724.6 1771.9" y="965.8" font-size="54" fill="#222" stroke="#222" stroke-width="0.5">PULSE</text>
<text x="1287.3" y="978" font-size="7.4" font-weight="bold" fill="#B2B2B2" stroke="#B2B2B2" stroke-width="0.9" textLength="45.6" lengthAdjust="spacingAndGlyphs">KOSMOH</text>
<text x="1176.4" y="990.9" font-size="8.9" font-weight="bold" fill="#2a2a2a" letter-spacing="1.9" textLength="158.6" lengthAdjust="spacingAndGlyphs">RESEARCH &amp; CONSULTING</text>
</g>
</svg></body></html>
